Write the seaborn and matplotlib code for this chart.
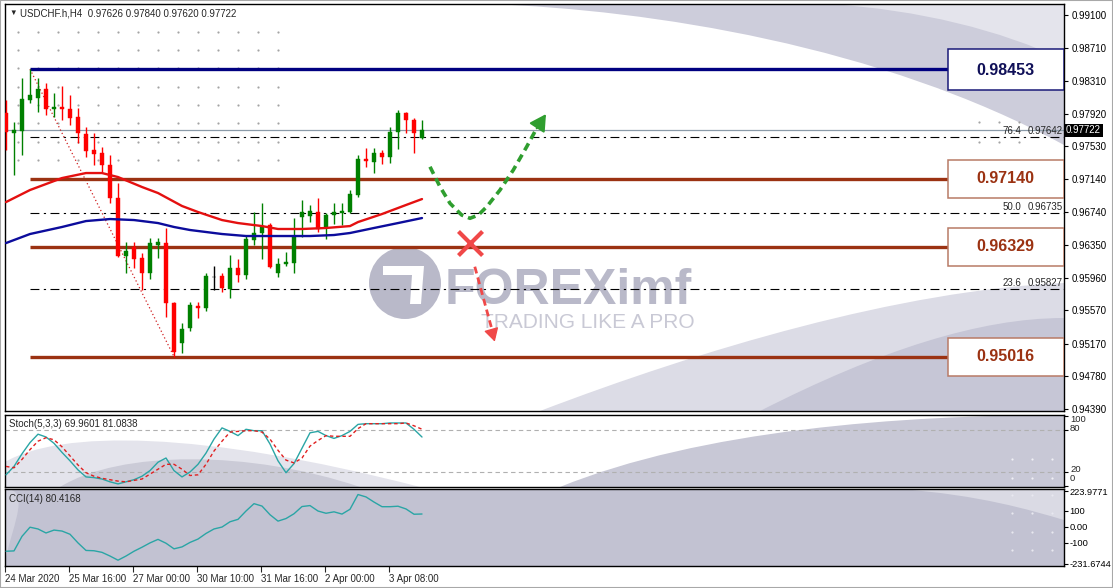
import matplotlib
matplotlib.use("Agg")
import matplotlib.pyplot as plt
import matplotlib.transforms as mtransforms
from matplotlib.patches import Rectangle, Ellipse, Polygon, PathPatch
from matplotlib.path import Path
import seaborn as sns

sns.set_style("white")
plt.rcParams['font.family'] = ['Liberation Sans', 'DejaVu Sans']

# ---------------- data (USDCHF H4) ----------------
opens = [0.97928, 0.97689, 0.97713, 0.98084, 0.98108, 0.98215, 0.97976, 0.98000, 0.97976, 0.97881,
         0.97677, 0.97486, 0.97450, 0.97307, 0.96912, 0.96219, 0.96326, 0.96195, 0.96016, 0.96350,
         0.96374, 0.95657, 0.95179, 0.95358, 0.95621, 0.95597, 0.95968, 0.95980, 0.95824, 0.96075,
         0.95992, 0.96410, 0.96494, 0.96589, 0.96016, 0.96123, 0.96135, 0.96685, 0.96697, 0.96745,
         0.96554, 0.96709, 0.96733, 0.96745, 0.96948, 0.97378, 0.97343, 0.97450, 0.97402, 0.97701,
         0.97928, 0.97845, 0.97626]
highs = [0.98084, 0.97821, 0.98347, 0.98453, 0.98347, 0.98287, 0.98168, 0.98251, 0.98144, 0.97988,
         0.97761, 0.97689, 0.97522, 0.97426, 0.97092, 0.96386, 0.96386, 0.96255, 0.96434, 0.96434,
         0.96554, 0.95669, 0.95418, 0.95669, 0.95669, 0.96016, 0.96099, 0.96016, 0.96231, 0.96183,
         0.96470, 0.96745, 0.96852, 0.96613, 0.96195, 0.96267, 0.96673, 0.96888, 0.96829, 0.96912,
         0.96733, 0.96852, 0.96852, 0.97008, 0.97426, 0.97510, 0.97510, 0.97486, 0.97761, 0.97964,
         0.97940, 0.97869, 0.97840]
lows = [0.97486, 0.97187, 0.97426, 0.98048, 0.97940, 0.97904, 0.97881, 0.97845, 0.97785, 0.97570,
        0.97402, 0.97307, 0.97223, 0.96852, 0.96207, 0.96016, 0.96075, 0.95812, 0.95944, 0.96195,
        0.95490, 0.95016, 0.95059, 0.95322, 0.95478, 0.95561, 0.95812, 0.95788, 0.95717, 0.95908,
        0.95944, 0.96350, 0.96183, 0.96075, 0.95968, 0.96099, 0.96016, 0.96446, 0.96625, 0.96506,
        0.96422, 0.96601, 0.96589, 0.96733, 0.96924, 0.97283, 0.97211, 0.97319, 0.97331, 0.97498,
        0.97689, 0.97450, 0.97620]
closes = [0.97701, 0.97725, 0.98096, 0.98144, 0.98215, 0.97976, 0.98000, 0.97976, 0.97869, 0.97689,
          0.97474, 0.97438, 0.97307, 0.96912, 0.96219, 0.96279, 0.96183, 0.96016, 0.96374, 0.96386,
          0.95657, 0.95071, 0.95346, 0.95633, 0.95597, 0.95980, 0.95968, 0.95836, 0.96075, 0.95992,
          0.96422, 0.96494, 0.96577, 0.96087, 0.96123, 0.96147, 0.96446, 0.96745, 0.96757, 0.96542,
          0.96709, 0.96745, 0.96757, 0.96960, 0.97378, 0.97355, 0.97450, 0.97402, 0.97701, 0.97928,
          0.97845, 0.97689, 0.97722]
bars = list(range(len(closes)))

ma_red_bars = [0, 3, 7, 10, 12, 14, 17, 19, 22, 24, 27, 29, 32, 34, 37, 40, 43, 44, 47, 50, 52]
ma_red = [0.96864, 0.97008, 0.97151, 0.97211, 0.97211, 0.97163, 0.97044, 0.96972, 0.96817, 0.96745,
          0.96649, 0.96613, 0.96577, 0.96542, 0.96542, 0.96554, 0.96577, 0.96625, 0.96721, 0.96829,
          0.96900]
ma_blue_bars = [0, 3, 7, 10, 13, 16, 19, 21, 23, 27, 30, 34, 38, 41, 43, 46, 49, 52]
ma_blue = [0.96374, 0.96482, 0.96566, 0.96637, 0.96661, 0.96649, 0.96613, 0.96566, 0.96530, 0.96482,
           0.96458, 0.96458, 0.96458, 0.96470, 0.96494, 0.96554, 0.96613, 0.96673]

stoch_main = [16, 28, 46, 62, 74, 70, 61, 48, 36, 23, 13, 12, 10, 6, 3, 6, 9, 14, 22, 34,
              40, 22, 13, 20, 31, 47, 67, 83, 78, 72, 81, 79, 79, 60, 36, 19, 32, 54, 76, 78,
              72, 68, 72, 78, 88, 89, 89, 89, 90, 90, 90, 81, 69.96]
stoch_signal = [28, 26, 38, 52, 64, 69, 66, 56, 43, 30, 19, 14, 11, 9, 7, 6, 8, 10, 17, 24,
                31, 31, 24, 15, 16, 31, 50, 64, 77, 78, 79, 79, 77, 67, 51, 37, 33, 40, 57, 65,
                72, 71, 71, 71, 82, 89, 89, 89, 89, 89, 90, 86, 81.08]
cci = [-152, -150, -59, -2, -13, -38, -20, -26, -46, -100, -147, -149, -159, -182, -208, -182,
       -152, -127, -100, -78, -102, -137, -125, -97, -76, -41, -13, -1, 32, 47, 99, 145, 130,
       76, 36, 52, 82, 127, 133, 99, 85, 94, 80, 110, 202, 187, 155, 126, 126, 129, 112, 79, 80.42]

price_ticks = [0.99100, 0.98710, 0.98310, 0.97920, 0.97530, 0.97140, 0.96740,
               0.96350, 0.95960, 0.95570, 0.95170, 0.94780, 0.94390]
cci_ticks = [223.9771, 100, 0, -100, -231.6744]
cci_tick_labels = ["223.9771", "100", "0.00", "-100", "-231.6744"]
date_bars = [0, 8, 16, 24, 32, 40, 48]
date_labels = ["24 Mar 2020", "25 Mar 16:00", "27 Mar 00:00", "30 Mar 10:00",
               "31 Mar 16:00", "2 Apr 00:00", "3 Apr 08:00"]

swing_high_bar, swing_low_bar = 3, 21
swing_high, swing_low = 0.98453, 0.95016
sr_levels = [0.97140, 0.96329, 0.95016]
fib_levels = [0.97642, 0.96735, 0.95827]
fib_names = ["76.4", "50.0", "23.6"]
last_price = 0.97722

bull_path_bars = [53, 54.25, 55.5, 56.96, 58, 59.04, 60.09, 61.75, 63.41, 65.09, 66.34, 67.5]
bull_path = [0.97286, 0.97047, 0.96849, 0.96709, 0.96670, 0.96709, 0.96808, 0.97008,
             0.97247, 0.97526, 0.97746, 0.97916]
cross_bar, cross_price = 58, 0.96374
bear_path_bars = [58.6, 61.1]
bear_path = [0.96091, 0.95215]

# ---------------- layout ----------------
W, H = 1113, 588
fig = plt.figure(figsize=(W / 100, H / 100), dpi=100)


def frame(l, t, r, b):
    return [l / W, 1 - b / H, (r - l) / W, (b - t) / H]


def fp(pts):
    return [(x / W, 1 - y / H) for x, y in pts]


ax = fig.add_axes(frame(5, 4, 1064, 411))
ax_st = fig.add_axes(frame(5, 415, 1064, 487), sharex=ax)
ax_cci = fig.add_axes(frame(5, 489, 1064, 566), sharex=ax)

M, C, L, Z = Path.MOVETO, Path.CURVE4, Path.LINETO, Path.CLOSEPOLY


def wave(axis, pts, codes, color):
    p = PathPatch(Path(fp(pts), codes), facecolor=color, edgecolor='none',
                  transform=fig.transFigure, zorder=0.2)
    axis.add_patch(p)
    p.set_clip_path(axis.patch)


# background artwork
wave(ax, [(490, 4), (650, 10), (880, 45), (1064, 145), (1064, 4), (490, 4)], [M, C, C, C, L, Z], '#cdcddb')
wave(ax, [(830, 4), (920, 10), (1000, 30), (1064, 60), (1064, 4), (830, 4)], [M, C, C, C, L, Z], '#e4e4ec')
wave(ax, [(540, 411), (700, 350), (900, 290), (1064, 283), (1064, 411), (540, 411)], [M, C, C, C, L, Z], '#dcdce6')
wave(ax, [(760, 411), (880, 350), (980, 318), (1064, 318), (1064, 411), (760, 411)], [M, C, C, C, L, Z], '#c6c6d6')
wave(ax_st, [(5, 462), (60, 430), (200, 430), (420, 487), (5, 487), (5, 462)], [M, C, C, C, L, Z], '#e4e4ec')
wave(ax_st, [(60, 487), (120, 450), (250, 450), (360, 487), (60, 487)], [M, C, C, C, Z], '#cbcbd7')
wave(ax_st, [(560, 487), (700, 430), (900, 415), (1064, 415), (1064, 487), (560, 487)], [M, C, C, C, L, Z], '#c8c8d6')
ax_cci.set_facecolor('#c2c2d2')
wave(ax_cci, [(900, 489), (980, 495), (1030, 510), (1064, 520), (1064, 489), (900, 489)], [M, C, C, C, L, Z], '#dadae4')
wave(ax_cci, [(5, 489), (30, 489), (15, 520), (5, 560), (5, 489)], [M, C, C, C, Z], '#d2d2de')

# dotted background grid
gx = [18 + 20 * k for k in range(14)]
gy = [32, 50, 68, 87, 105, 123, 142, 160]
pts = fp([(x, y) for x in gx for y in gy] + [(x, y) for x in (979, 999, 1019) for y in (122, 142, 161)])
ax.scatter([p[0] for p in pts], [p[1] for p in pts], s=2.5, color='#a4a4a4',
           transform=fig.transFigure, zorder=0.3, linewidths=0)
pts = fp([(x, y) for x in (1012, 1032, 1052) for y in (459, 478)])
ax_st.scatter([p[0] for p in pts], [p[1] for p in pts], s=2.5, color='#f0f0f6',
              transform=fig.transFigure, zorder=0.3, linewidths=0)
pts = fp([(x, y) for x in (1012, 1032, 1052) for y in (495, 513, 532, 550)])
ax_cci.scatter([p[0] for p in pts], [p[1] for p in pts], s=2.5, color='#e8e8f0',
               transform=fig.transFigure, zorder=0.3, linewidths=0)

# watermark
wm = '#b9b9c9'
ax.add_patch(Ellipse(fp([(405, 283)])[0], 72 / W, 72 / H, transform=fig.transFigure,
                     facecolor=wm, edgecolor='none', zorder=0.5))
ax.add_patch(Polygon(fp([(383, 266), (424, 266), (421, 304), (410, 304), (412, 275), (383, 275)]),
                     closed=True, transform=fig.transFigure, facecolor='white',
                     edgecolor='none', zorder=0.6))
ax.text(445 / W, 1 - 304 / H, "FOREXimf", transform=fig.transFigure, fontsize=36,
        fontweight='bold', color=wm, va='baseline', ha='left', zorder=0.5)
ax.text(481 / W, 1 - 328 / H, "TRADING LIKE A PRO", transform=fig.transFigure, fontsize=15,
        color='#c9c9d5', va='baseline', ha='left', zorder=0.5)

# ---------------- main price panel ----------------
blend = mtransforms.blended_transform_factory(ax.transAxes, ax.transData)
ax.axhline(last_price, color='#8a9aa8', lw=0.9, zorder=1)

for lvl, name in zip(fib_levels, fib_names):
    ax.hlines(lvl, swing_high_bar, 132.5, color='black', lw=0.8, zorder=1.2,
              linestyles=[(0, (8, 4, 2, 4))])
    ax.text(0.9594, lvl + 0.0001, name, transform=blend, fontsize=7, ha='right', va='bottom', zorder=6)
    ax.text(0.9990, lvl + 0.0001, f"{lvl:.5f}", transform=blend, fontsize=7, ha='right',
            va='bottom', zorder=6)

ax.plot([swing_high_bar, swing_low_bar], [swing_high, swing_low], color='#d02020', lw=0.9,
        linestyle=(0, (1, 2)), zorder=1.3)

ax.hlines(swing_high, swing_high_bar, 132.5, color='#000080', lw=2.4, zorder=2)
for lvl in sr_levels:
    ax.hlines(lvl, swing_high_bar, 117.75, color='#9b3212', lw=2.4, zorder=2)

# candles
for i in bars:
    o, h, l, c = opens[i], highs[i], lows[i], closes[i]
    col = '#008000' if c > o else ('#ff0000' if c < o else '#000000')
    ax.vlines(i, l, h, color=col, lw=1.0, zorder=3)
    ax.bar(i, max(abs(c - o), 0.00004), bottom=min(o, c), width=0.62, color=col,
           edgecolor=col, linewidth=0.3, zorder=3.1)

sns.lineplot(x=ma_red_bars, y=ma_red, ax=ax, color='#e41010', linewidth=1.7, zorder=3.5)
sns.lineplot(x=ma_blue_bars, y=ma_blue, ax=ax, color='#0c0c9c', linewidth=1.7, zorder=3.5)

# forecast drawings
ax.plot(bull_path_bars[:-1], bull_path[:-1], color='#2f9e2f', lw=2.6, linestyle=(0, (2.2, 1.4)),
        zorder=4, solid_capstyle='butt')
ax.annotate('', xy=(bull_path_bars[-1], bull_path[-1]), xytext=(bull_path_bars[-2], bull_path[-2]),
            arrowprops=dict(arrowstyle='-|>,head_length=0.9,head_width=0.5', color='#2f9e2f',
                            lw=1.5, shrinkA=0, shrinkB=0, mutation_scale=11), zorder=4)
ax.scatter([cross_bar], [cross_price], marker='x', s=300, color='#f04848', linewidths=3, zorder=4)
ax.plot(bear_path_bars, bear_path, color='#f04848', lw=2, linestyle=(0, (2.5, 1.5)), zorder=4)
ax.annotate('', xy=(bear_path_bars[-1], bear_path[-1] - 0.0002), xytext=(bear_path_bars[0] + 2.2, bear_path[-1] + 0.0008),
            arrowprops=dict(arrowstyle='-|>,head_length=0.8,head_width=0.45', color='#f04848',
                            lw=1, shrinkA=0, shrinkB=0, mutation_scale=10), zorder=4)

# level boxes
box_x0, box_w, box_h = 117.75, 14.5, 0.00452
ax.add_patch(Rectangle((box_x0, swing_high - box_h / 2 - 0.0002), box_w, box_h + 0.0004,
                       facecolor='white', edgecolor='#1a1a78', lw=1.1, zorder=5))
ax.text(box_x0 + 7.2, swing_high - 0.0002, f"{swing_high:.5f}", ha='center', va='center',
        fontsize=11.5, fontweight='bold', color='#101058', zorder=6)
for lvl in sr_levels:
    ax.add_patch(Rectangle((box_x0, lvl - box_h / 2), box_w, box_h, facecolor='white',
                           edgecolor='#b87a66', lw=1.1, zorder=5))
    ax.text(box_x0 + 7.2, lvl, f"{lvl:.5f}", ha='center', va='center', fontsize=11.5,
            fontweight='bold', color='#9b3212', zorder=6)

ax.set_ylim(0.94366, 0.99232)
ax.yaxis.tick_right()
ax.set_yticks(price_ticks)
ax.set_yticklabels([f"{v:.5f}" for v in price_ticks])
ax.text(1.0019, last_price, f"{last_price:.5f}", transform=blend, fontsize=7, color='white',
        va='center', ha='left', zorder=7, clip_on=False,
        bbox=dict(boxstyle='square,pad=0.18', facecolor='black', edgecolor='none'))

# ---------------- stochastic ----------------
sns.lineplot(x=bars, y=stoch_main, ax=ax_st, color='#2aa5a5', linewidth=1.0, zorder=3)
sns.lineplot(x=bars, y=stoch_signal, ax=ax_st, color='#e02020', linewidth=1.0,
             linestyle=(0, (2.5, 2)), zorder=3)
for lv in (80, 20):
    ax_st.axhline(lv, color='#b0b0b0', lw=0.8, linestyle=(0, (4, 3)), zorder=1)
ax_st.set_ylim(-1.4, 101.4)
ax_st.yaxis.tick_right()
ax_st.set_yticks([100, 80, 20, 0])
ax_st.set_yticklabels([])
stb = mtransforms.blended_transform_factory(ax_st.transAxes, ax_st.transData)
for lab, pos in zip(["100", "80", "20", "0"], [94.5, 82.5, 23.5, 10.5]):
    ax_st.text(1.0057, pos, lab, transform=stb, fontsize=6.8, va='center', ha='left', clip_on=False,
               linespacing=0.9)
ax_st.text(4 / 1059, 0.87, "Stoch(5,3,3) 69.9601 81.0838", transform=ax_st.transAxes,
           fontsize=7, va='center', ha='left', zorder=6)

# ---------------- CCI ----------------
sns.lineplot(x=bars, y=cci, ax=ax_cci, color='#2aa5a5', linewidth=1.0, zorder=3)
ax_cci.set_ylim(-244.2, 236.5)
ax_cci.yaxis.tick_right()
ax_cci.set_yticks(cci_ticks)
ax_cci.set_yticklabels(cci_tick_labels)
ax_cci.text(4 / 1059, 0.87, "CCI(14) 80.4168", transform=ax_cci.transAxes,
            fontsize=7, va='center', ha='left', zorder=6)

ax_cci.set_xticks([b - 0.125 for b in date_bars])
ax_cci.set_xticklabels(date_labels, ha='left')
ax.set_xlim(-0.125, 132.25)

for a in (ax, ax_st, ax_cci):
    a.set_xlabel('')
    a.set_ylabel('')
    for s in a.spines.values():
        s.set_color('black')
        s.set_linewidth(1.0)
    a.tick_params(axis='y', which='both', right=True, left=False, labelright=True, labelleft=False,
                  length=3, width=0.8, pad=2.5, labelsize=7, colors='black', direction='out')
for a in (ax, ax_st):
    a.tick_params(axis='x', bottom=False, labelbottom=False)
ax_cci.tick_params(axis='y', pad=1.0, labelsize=6.7)
ax_cci.tick_params(axis='x', bottom=True, labelbottom=True, length=4, width=0.8, pad=2,
                   labelsize=7, direction='out')

# header
fig.text(9 / W, 1 - 13 / H, "\u25bc", fontsize=5.5, va='center', ha='left')
fig.text(20 / W, 1 - 13 / H, "USDCHF.h,H4  0.97626 0.97840 0.97620 0.97722", fontsize=7,
         va='center', ha='left')
fig.patches.append(Rectangle((0, 0), 1, 1, transform=fig.transFigure, fill=False,
                             edgecolor='#a8a8a8', lw=1.5))

fig.savefig("out.png", dpi=100)
